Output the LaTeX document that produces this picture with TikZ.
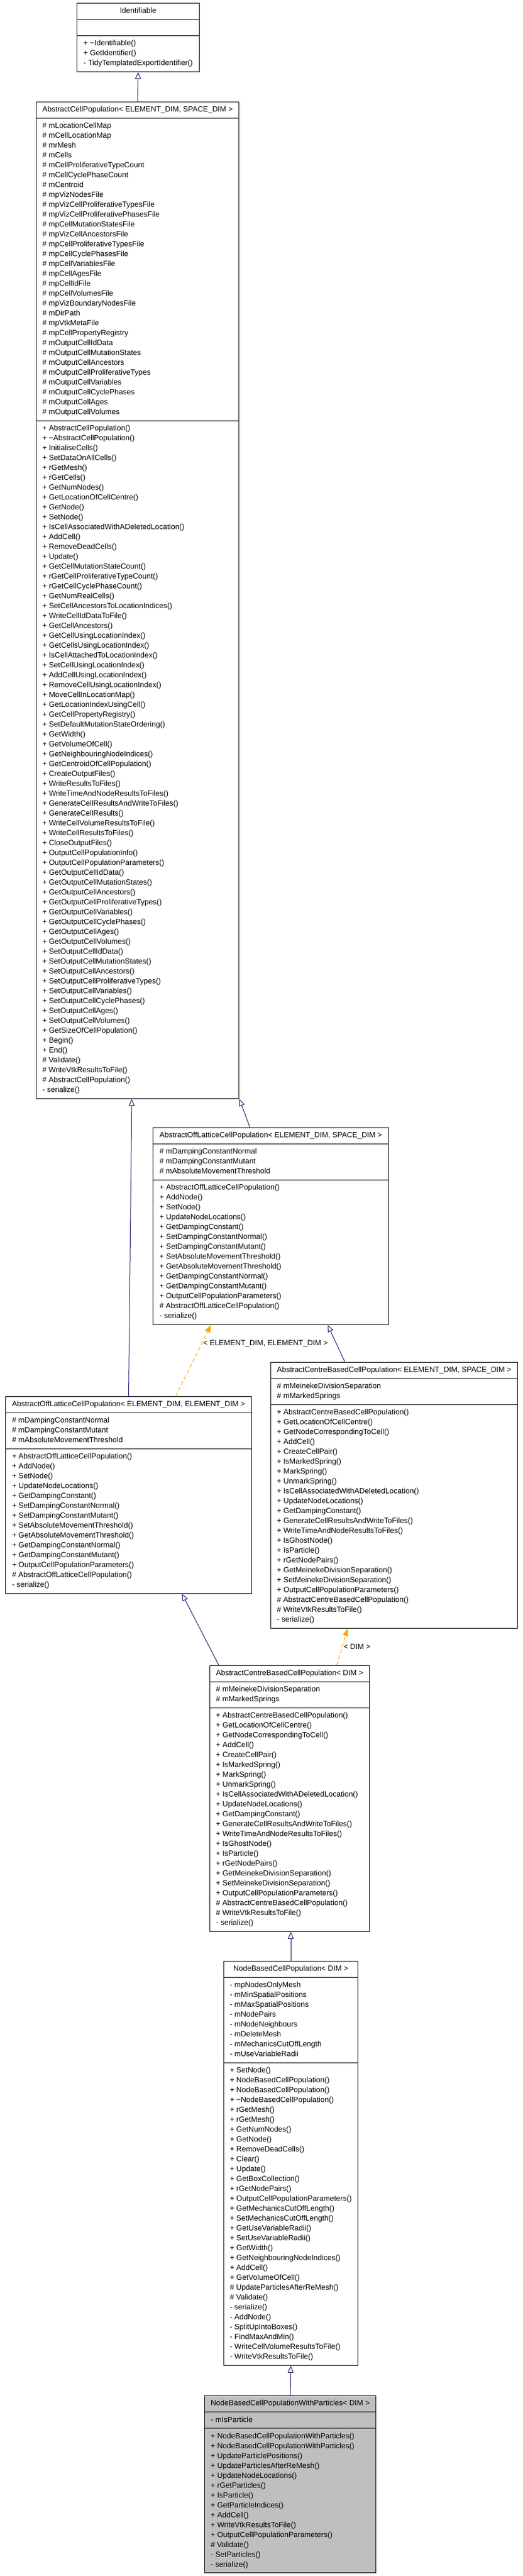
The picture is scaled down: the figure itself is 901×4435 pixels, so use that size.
\documentclass[tikz,border=0pt]{standalone}
\usepackage{fontspec}
\setmainfont{Liberation Sans}
\usetikzlibrary{shapes.multipart,arrows.meta}
\definecolor{navy}{RGB}{25,25,112}
\definecolor{tplorange}{RGB}{255,165,0}

\begin{document}
\begin{tikzpicture}[x=1pt,y=1pt,
   cls/.style={draw,line width=1pt,rectangle split,rectangle split parts=3,
      rectangle split part align={center,left,left},inner xsep=11pt,inner ysep=5pt,
      anchor=north,font=\fontsize{13}{17}\selectfont,execute at begin node=\strut},
   inh/.style={draw=navy,line width=1pt,-{Triangle[open,length=12pt,width=10pt]}},
   tpl/.style={draw=tplorange,line width=1pt,dash pattern=on 7pt off 4pt,
      -{Triangle[length=13pt,width=10pt,fill=tplorange]}},
   lbl/.style={font=\fontsize{13}{17}\selectfont,anchor=west,inner sep=2pt}]
   \useasboundingbox (0,0) rectangle (901,-4435);

   \node[cls] (ident) at (238,-5) {Identifiable
      \nodepart{second}\strut
      \nodepart{third}\begin{tabular}{@{}l@{}}
      + \textasciitilde Identifiable()\\
      + GetIdentifier()\\
      - TidyTemplatedExportIdentifier()
      \end{tabular}};

   \node[cls] (acp) at (237,-175) {AbstractCellPopulation< ELEMENT\_DIM, SPACE\_DIM >
      \nodepart{second}\begin{tabular}{@{}l@{}}
      \# mLocationCellMap\\
      \# mCellLocationMap\\
      \# mrMesh\\
      \# mCells\\
      \# mCellProliferativeTypeCount\\
      \# mCellCyclePhaseCount\\
      \# mCentroid\\
      \# mpVizNodesFile\\
      \# mpVizCellProliferativeTypesFile\\
      \# mpVizCellProliferativePhasesFile\\
      \# mpCellMutationStatesFile\\
      \# mpVizCellAncestorsFile\\
      \# mpCellProliferativeTypesFile\\
      \# mpCellCyclePhasesFile\\
      \# mpCellVariablesFile\\
      \# mpCellAgesFile\\
      \# mpCellIdFile\\
      \# mpCellVolumesFile\\
      \# mpVizBoundaryNodesFile\\
      \# mDirPath\\
      \# mpVtkMetaFile\\
      \# mpCellPropertyRegistry\\
      \# mOutputCellIdData\\
      \# mOutputCellMutationStates\\
      \# mOutputCellAncestors\\
      \# mOutputCellProliferativeTypes\\
      \# mOutputCellVariables\\
      \# mOutputCellCyclePhases\\
      \# mOutputCellAges\\
      \# mOutputCellVolumes
      \end{tabular}
      \nodepart{third}\begin{tabular}{@{}l@{}}
      + AbstractCellPopulation()\\
      + \textasciitilde AbstractCellPopulation()\\
      + InitialiseCells()\\
      + SetDataOnAllCells()\\
      + rGetMesh()\\
      + rGetCells()\\
      + GetNumNodes()\\
      + GetLocationOfCellCentre()\\
      + GetNode()\\
      + SetNode()\\
      + IsCellAssociatedWithADeletedLocation()\\
      + AddCell()\\
      + RemoveDeadCells()\\
      + Update()\\
      + GetCellMutationStateCount()\\
      + rGetCellProliferativeTypeCount()\\
      + rGetCellCyclePhaseCount()\\
      + GetNumRealCells()\\
      + SetCellAncestorsToLocationIndices()\\
      + WriteCellIdDataToFile()\\
      + GetCellAncestors()\\
      + GetCellUsingLocationIndex()\\
      + GetCellsUsingLocationIndex()\\
      + IsCellAttachedToLocationIndex()\\
      + SetCellUsingLocationIndex()\\
      + AddCellUsingLocationIndex()\\
      + RemoveCellUsingLocationIndex()\\
      + MoveCellInLocationMap()\\
      + GetLocationIndexUsingCell()\\
      + GetCellPropertyRegistry()\\
      + SetDefaultMutationStateOrdering()\\
      + GetWidth()\\
      + GetVolumeOfCell()\\
      + GetNeighbouringNodeIndices()\\
      + GetCentroidOfCellPopulation()\\
      + CreateOutputFiles()\\
      + WriteResultsToFiles()\\
      + WriteTimeAndNodeResultsToFiles()\\
      + GenerateCellResultsAndWriteToFiles()\\
      + GenerateCellResults()\\
      + WriteCellVolumeResultsToFile()\\
      + WriteCellResultsToFiles()\\
      + CloseOutputFiles()\\
      + OutputCellPopulationInfo()\\
      + OutputCellPopulationParameters()\\
      + GetOutputCellIdData()\\
      + GetOutputCellMutationStates()\\
      + GetOutputCellAncestors()\\
      + GetOutputCellProliferativeTypes()\\
      + GetOutputCellVariables()\\
      + GetOutputCellCyclePhases()\\
      + GetOutputCellAges()\\
      + GetOutputCellVolumes()\\
      + SetOutputCellIdData()\\
      + SetOutputCellMutationStates()\\
      + SetOutputCellAncestors()\\
      + SetOutputCellProliferativeTypes()\\
      + SetOutputCellVariables()\\
      + SetOutputCellCyclePhases()\\
      + SetOutputCellAges()\\
      + SetOutputCellVolumes()\\
      + GetSizeOfCellPopulation()\\
      + Begin()\\
      + End()\\
      \# Validate()\\
      \# WriteVtkResultsToFile()\\
      \# AbstractCellPopulation()\\
      - serialize()
      \end{tabular}};

   \node[cls] (aoles) at (466.5,-1941) {AbstractOffLatticeCellPopulation< ELEMENT\_DIM, SPACE\_DIM >
      \nodepart{second}\begin{tabular}{@{}l@{}}
      \# mDampingConstantNormal\\
      \# mDampingConstantMutant\\
      \# mAbsoluteMovementThreshold
      \end{tabular}
      \nodepart{third}\begin{tabular}{@{}l@{}}
      + AbstractOffLatticeCellPopulation()\\
      + AddNode()\\
      + SetNode()\\
      + UpdateNodeLocations()\\
      + GetDampingConstant()\\
      + SetDampingConstantNormal()\\
      + SetDampingConstantMutant()\\
      + SetAbsoluteMovementThreshold()\\
      + GetAbsoluteMovementThreshold()\\
      + GetDampingConstantNormal()\\
      + GetDampingConstantMutant()\\
      + OutputCellPopulationParameters()\\
      \# AbstractOffLatticeCellPopulation()\\
      - serialize()
      \end{tabular}};

   \node[cls] (aolee) at (221.5,-2404) {AbstractOffLatticeCellPopulation< ELEMENT\_DIM, ELEMENT\_DIM >
      \nodepart{second}\begin{tabular}{@{}l@{}}
      \# mDampingConstantNormal\\
      \# mDampingConstantMutant\\
      \# mAbsoluteMovementThreshold
      \end{tabular}
      \nodepart{third}\begin{tabular}{@{}l@{}}
      + AbstractOffLatticeCellPopulation()\\
      + AddNode()\\
      + SetNode()\\
      + UpdateNodeLocations()\\
      + GetDampingConstant()\\
      + SetDampingConstantNormal()\\
      + SetDampingConstantMutant()\\
      + SetAbsoluteMovementThreshold()\\
      + GetAbsoluteMovementThreshold()\\
      + GetDampingConstantNormal()\\
      + GetDampingConstantMutant()\\
      + OutputCellPopulationParameters()\\
      \# AbstractOffLatticeCellPopulation()\\
      - serialize()
      \end{tabular}};

   \node[cls] (acbes) at (679,-2344.5) {AbstractCentreBasedCellPopulation< ELEMENT\_DIM, SPACE\_DIM >
      \nodepart{second}\begin{tabular}{@{}l@{}}
      \# mMeinekeDivisionSeparation\\
      \# mMarkedSprings
      \end{tabular}
      \nodepart{third}\begin{tabular}{@{}l@{}}
      + AbstractCentreBasedCellPopulation()\\
      + GetLocationOfCellCentre()\\
      + GetNodeCorrespondingToCell()\\
      + AddCell()\\
      + CreateCellPair()\\
      + IsMarkedSpring()\\
      + MarkSpring()\\
      + UnmarkSpring()\\
      + IsCellAssociatedWithADeletedLocation()\\
      + UpdateNodeLocations()\\
      + GetDampingConstant()\\
      + GenerateCellResultsAndWriteToFiles()\\
      + WriteTimeAndNodeResultsToFiles()\\
      + IsGhostNode()\\
      + IsParticle()\\
      + rGetNodePairs()\\
      + GetMeinekeDivisionSeparation()\\
      + SetMeinekeDivisionSeparation()\\
      + OutputCellPopulationParameters()\\
      \# AbstractCentreBasedCellPopulation()\\
      \# WriteVtkResultsToFile()\\
      - serialize()
      \end{tabular}};

   \node[cls] (acbd) at (499,-2867) {AbstractCentreBasedCellPopulation< DIM >
      \nodepart{second}\begin{tabular}{@{}l@{}}
      \# mMeinekeDivisionSeparation\\
      \# mMarkedSprings
      \end{tabular}
      \nodepart{third}\begin{tabular}{@{}l@{}}
      + AbstractCentreBasedCellPopulation()\\
      + GetLocationOfCellCentre()\\
      + GetNodeCorrespondingToCell()\\
      + AddCell()\\
      + CreateCellPair()\\
      + IsMarkedSpring()\\
      + MarkSpring()\\
      + UnmarkSpring()\\
      + IsCellAssociatedWithADeletedLocation()\\
      + UpdateNodeLocations()\\
      + GetDampingConstant()\\
      + GenerateCellResultsAndWriteToFiles()\\
      + WriteTimeAndNodeResultsToFiles()\\
      + IsGhostNode()\\
      + IsParticle()\\
      + rGetNodePairs()\\
      + GetMeinekeDivisionSeparation()\\
      + SetMeinekeDivisionSeparation()\\
      + OutputCellPopulationParameters()\\
      \# AbstractCentreBasedCellPopulation()\\
      \# WriteVtkResultsToFile()\\
      - serialize()
      \end{tabular}};

   \node[cls] (nbcp) at (501,-3376) {NodeBasedCellPopulation< DIM >
      \nodepart{second}\begin{tabular}{@{}l@{}}
      - mpNodesOnlyMesh\\
      - mMinSpatialPositions\\
      - mMaxSpatialPositions\\
      - mNodePairs\\
      - mNodeNeighbours\\
      - mDeleteMesh\\
      - mMechanicsCutOffLength\\
      - mUseVariableRadii
      \end{tabular}
      \nodepart{third}\begin{tabular}{@{}l@{}}
      + SetNode()\\
      + NodeBasedCellPopulation()\\
      + NodeBasedCellPopulation()\\
      + \textasciitilde NodeBasedCellPopulation()\\
      + rGetMesh()\\
      + rGetMesh()\\
      + GetNumNodes()\\
      + GetNode()\\
      + RemoveDeadCells()\\
      + Clear()\\
      + Update()\\
      + GetBoxCollection()\\
      + rGetNodePairs()\\
      + OutputCellPopulationParameters()\\
      + GetMechanicsCutOffLength()\\
      + SetMechanicsCutOffLength()\\
      + GetUseVariableRadii()\\
      + SetUseVariableRadii()\\
      + GetWidth()\\
      + GetNeighbouringNodeIndices()\\
      + AddCell()\\
      + GetVolumeOfCell()\\
      \# UpdateParticlesAfterReMesh()\\
      \# Validate()\\
      - serialize()\\
      - AddNode()\\
      - SplitUpIntoBoxes()\\
      - FindMaxAndMin()\\
      - WriteCellVolumeResultsToFile()\\
      - WriteVtkResultsToFile()
      \end{tabular}};

   \node[cls,fill=black!25] (nbcpwp) at (500,-4124) {NodeBasedCellPopulationWithParticles< DIM >
      \nodepart{second}\begin{tabular}{@{}l@{}}
      - mIsParticle
      \end{tabular}
      \nodepart{third}\begin{tabular}{@{}l@{}}
      + NodeBasedCellPopulationWithParticles()\\
      + NodeBasedCellPopulationWithParticles()\\
      + UpdateParticlePositions()\\
      + UpdateParticlesAfterReMesh()\\
      + UpdateNodeLocations()\\
      + rGetParticles()\\
      + IsParticle()\\
      + GetParticleIndices()\\
      + AddCell()\\
      + WriteVtkResultsToFile()\\
      + OutputCellPopulationParameters()\\
      \# Validate()\\
      - SetParticles()\\
      - serialize()
      \end{tabular}};

   \draw[inh] (acp.north) -- (ident.south);
   \draw[inh] (aolee.north) -- ([xshift=-10pt]acp.south);
   \draw[inh] ([xshift=-36pt]aoles.north) -- (acp.south east);
   \draw[inh] ([xshift=-85pt]acbes.north) -- ([xshift=98pt]aoles.south);
   \draw[tpl] ([xshift=81pt]aolee.north) -- node[lbl,pos=0.74] {< ELEMENT\_DIM, ELEMENT\_DIM >} ([xshift=-103pt]aoles.south);
   \draw[inh] ([xshift=-122pt]acbd.north) -- ([xshift=92pt]aolee.south);
   \draw[tpl] ([xshift=81pt]acbd.north) -- node[lbl,pos=0.5] {< DIM >} ([xshift=-80pt]acbes.south);
   \draw[inh] (nbcp.north) -- (nbcp.north |- acbd.south);
   \draw[inh] (nbcpwp.north) -- (nbcp.south);
\end{tikzpicture}
\end{document}
